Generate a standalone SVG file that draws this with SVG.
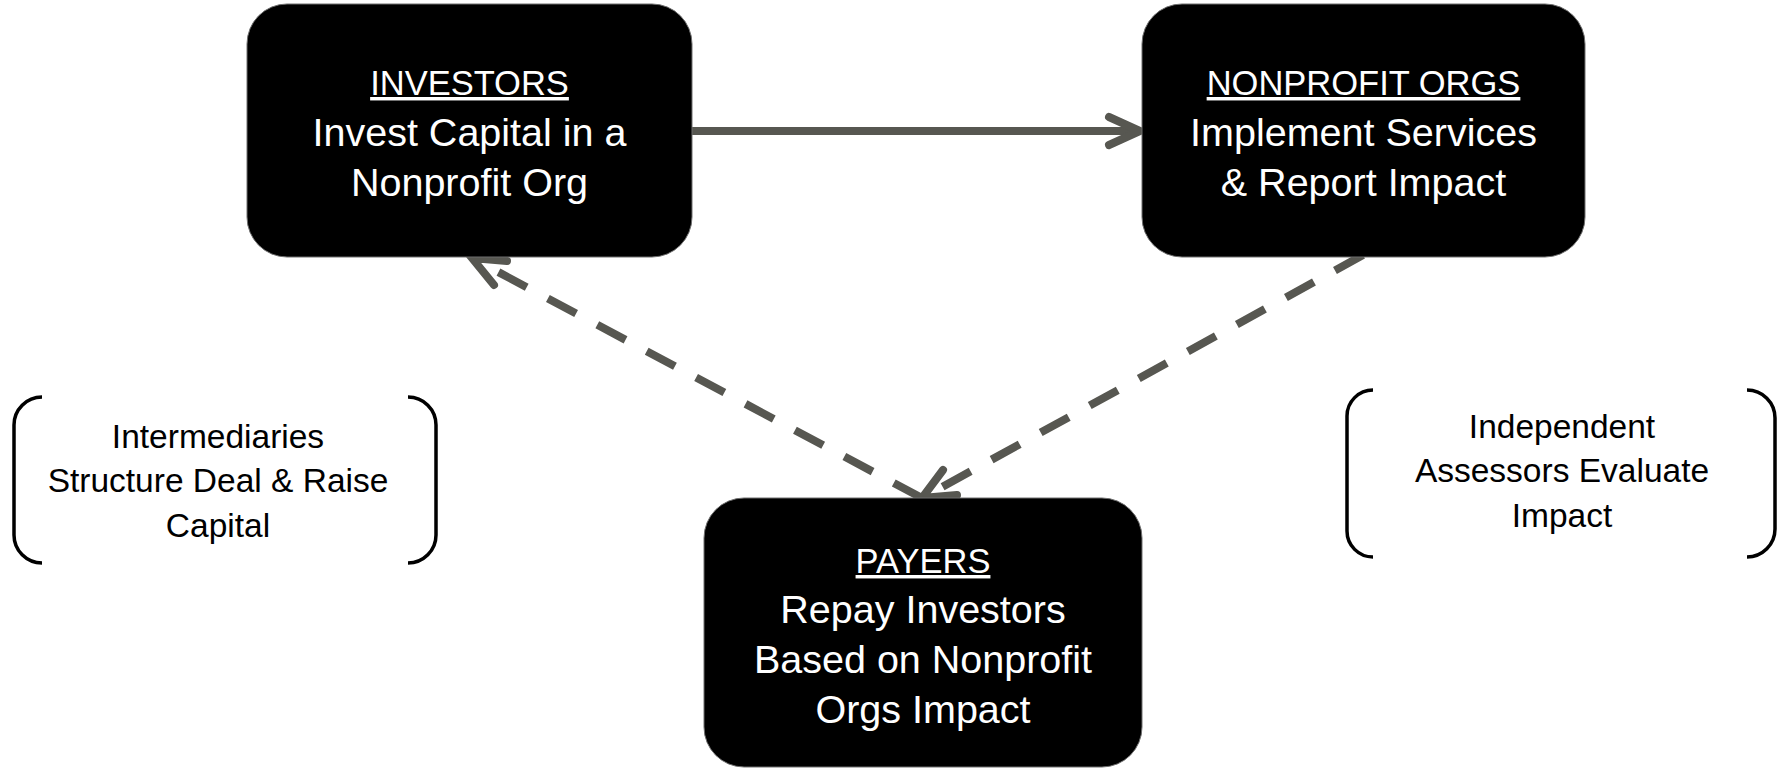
<svg xmlns="http://www.w3.org/2000/svg" width="1787" height="771" viewBox="0 0 1787 771">
<style>
  .box { fill: #000000; stroke: #6e6e6e; stroke-width: 1; }
  .t { font-family: "Liberation Sans", Arial, sans-serif; fill: #ffffff; text-anchor: middle; font-size: 39.5px; }
  .h { font-size: 34.5px; text-decoration: underline; }
  .bt { font-family: "Liberation Sans", Arial, sans-serif; fill: #000000; text-anchor: middle; font-size: 33.5px; }
  .br { fill: none; stroke: #000000; stroke-width: 3.5; }
  .conn { fill: none; stroke: #575751; stroke-width: 8; }
  .dash { stroke-dasharray: 32 24; }
  .head { fill: none; stroke: #575751; stroke-width: 8; stroke-linecap: round; stroke-linejoin: miter; }
</style>
<rect width="1787" height="771" fill="#ffffff"/>

<g id="connectors">
  <line class="conn" x1="692" y1="131" x2="1138" y2="131"/>
  <polyline class="head" points="1109,117 1140,131 1109,145"/>
  <line class="conn dash" x1="1363" y1="255" x2="922" y2="498"/>
  <polyline class="head" points="943,470 922,498 957,495"/>
  <line class="conn dash" x1="922" y1="498" x2="472" y2="258"/>
  <polyline class="head" points="507,261 472,258 494,285"/>
</g>

<g id="investors">
  <rect class="box" x="247" y="4" width="445" height="253" rx="40" ry="40"/>
  <text class="t" x="469.5" y="95"><tspan class="h">INVESTORS</tspan></text>
  <text class="t" x="469.5" y="146">Invest Capital in a</text>
  <text class="t" x="469.5" y="196">Nonprofit Org</text>
</g>

<g id="nonprofit">
  <rect class="box" x="1142" y="4" width="443" height="253" rx="40" ry="40"/>
  <text class="t" x="1363.5" y="95"><tspan class="h">NONPROFIT ORGS</tspan></text>
  <text class="t" x="1363.5" y="146">Implement Services</text>
  <text class="t" x="1363.5" y="196">&amp; Report Impact</text>
</g>

<g id="payers">
  <rect class="box" x="704" y="498" width="438" height="269" rx="40" ry="40"/>
  <text class="t" x="923" y="573"><tspan class="h">PAYERS</tspan></text>
  <text class="t" x="923" y="623">Repay Investors</text>
  <text class="t" x="923" y="673">Based on Nonprofit</text>
  <text class="t" x="923" y="723">Orgs Impact</text>
</g>

<g id="intermediaries">
  <path class="br" d="M 42 397 A 28 28 0 0 0 14 425 L 14 535 A 28 28 0 0 0 42 563"/>
  <path class="br" d="M 408 397 A 28 28 0 0 1 436 425 L 436 535 A 28 28 0 0 1 408 563"/>
  <text class="bt" x="218" y="448">Intermediaries</text>
  <text class="bt" x="218" y="492">Structure Deal &amp; Raise</text>
  <text class="bt" x="218" y="537">Capital</text>
</g>

<g id="assessors">
  <path class="br" d="M 1373 390 A 26 26 0 0 0 1347 416 L 1347 531 A 26 26 0 0 0 1373 557"/>
  <path class="br" d="M 1747 390 A 28 28 0 0 1 1775 418 L 1775 529 A 28 28 0 0 1 1747 557"/>
  <text class="bt" x="1562" y="438">Independent</text>
  <text class="bt" x="1562" y="482">Assessors Evaluate</text>
  <text class="bt" x="1562" y="527">Impact</text>
</g>
</svg>
